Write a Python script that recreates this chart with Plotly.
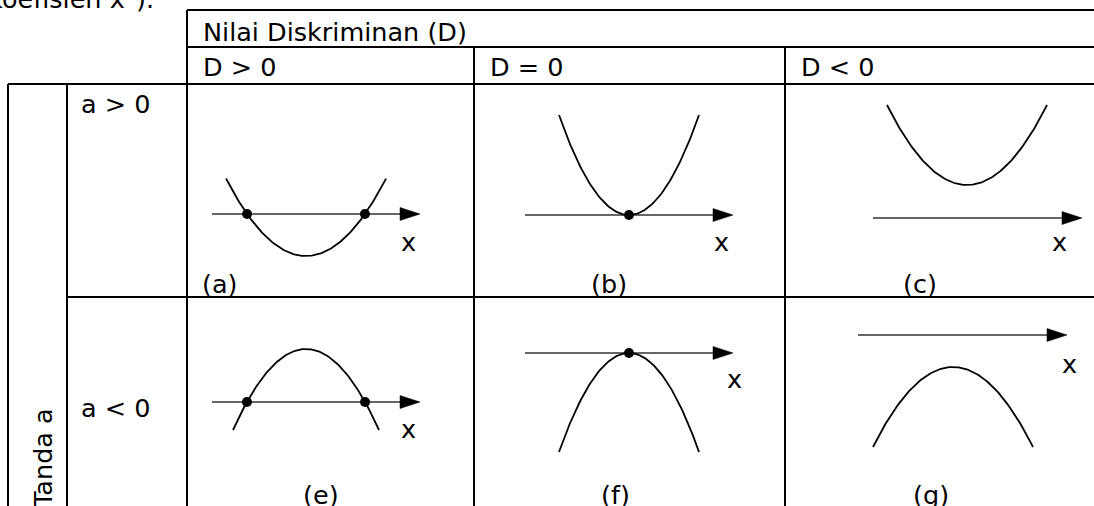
"""
Sketch table: shape of y = ax^2 + bx + c by sign of a and discriminant D.
"""

import numpy as np
import plotly.graph_objects as go

W, H = 1094, 506
FONT = "DejaVu Sans, Tahoma, Verdana, sans-serif"
FS = 25.5
S = 10  # px per sketch unit

# ── Panel data (local units, origin = vertex x on the x-axis line) ─────────────
labels     = ["(a)", "(b)", "(c)", "(e)", "(f)", "(g)"]
lead_coef  = [0.121, 0.204, 0.125, -0.152, -0.202, -0.125]
vertex_y   = [-4.2, 0.0, 3.3, 5.3, 0.0, -3.2]
half_span  = [8.0, 7.0, 8.0, 7.3, 7.0, 8.0]
axis_start = [-9.4, -10.4, -9.4, -9.4, -10.4, -9.5]
axis_tip   = [11.4, 10.4, 11.5, 11.4, 10.4, 11.4]
x_label_x  = [10.2, 9.2, 9.2, 10.2, 10.5, 11.6]
x_label_y  = [-2.8, -2.7, -2.4, -2.7, -2.6, -2.9]

# table text
header_top  = "Nilai Diskriminan (D)"
header_cols = ["D > 0", "D = 0", "D < 0"]
row_labels  = ["a > 0", "a < 0"]
side_label  = "Tanda a"

# ── Layout geometry (pixels) ───────────────────────────────────────────────────
col_x = [187, 474, 785, 1094]
row_y = [84, 297, 506]
origins = [(306, 214), (629, 215), (967, 218),
           (306, 402), (629, 353), (953, 335)]
label_pos = [(220, 284), (609, 284), (920, 284),
             (321, 495), (615, 495), (931, 495)]


def px(x):
    return x / W


def py(y):
    return 1 - y / H


fig = go.Figure()
layout_axes = {}

for i, lab in enumerate(labels):
    r, c = divmod(i, 3)
    x0, x1 = col_x[c], col_x[c + 1]
    y0, y1 = row_y[r], row_y[r + 1]
    ox, oy = origins[i]
    n = "" if i == 0 else str(i + 1)
    layout_axes[f"xaxis{n}"] = dict(
        domain=[px(x0), px(x1)], range=[(x0 - ox) / S, (x1 - ox) / S],
        visible=False, fixedrange=True, anchor=f"y{n}",
    )
    layout_axes[f"yaxis{n}"] = dict(
        domain=[py(y1), py(y0)], range=[(oy - y1) / S, (oy - y0) / S],
        visible=False, fixedrange=True, anchor=f"x{n}",
    )
    xa, ya = f"x{n}", f"y{n}"
    a, k = lead_coef[i], vertex_y[i]

    # x-axis line
    fig.add_trace(go.Scatter(
        x=[axis_start[i], axis_tip[i] - 1.0], y=[0, 0], mode="lines",
        line=dict(color="#333", width=1.5), xaxis=xa, yaxis=ya,
        hoverinfo="skip",
    ))
    # arrow head
    t = axis_tip[i]
    fig.add_trace(go.Scatter(
        x=[t - 2.0, t, t - 2.0, t - 2.0], y=[0.65, 0, -0.65, 0.65],
        mode="lines", fill="toself", fillcolor="black",
        line=dict(color="black", width=0.5), xaxis=xa, yaxis=ya,
        hoverinfo="skip",
    ))
    # parabola
    xs = np.linspace(-half_span[i], half_span[i], 121)
    fig.add_trace(go.Scatter(
        x=xs, y=a * xs ** 2 + k, mode="lines",
        line=dict(color="black", width=1.8), xaxis=xa, yaxis=ya,
        hoverinfo="skip",
    ))
    # intersections with the x-axis
    if k == 0:
        rx = [0.0]
    elif (k < 0) == (a > 0):
        root = np.sqrt(-k / a)
        rx = [-root, root]
    else:
        rx = []
    if rx:
        fig.add_trace(go.Scatter(
            x=rx, y=[0] * len(rx), mode="markers",
            marker=dict(color="black", size=10), xaxis=xa, yaxis=ya,
            hoverinfo="skip",
        ))
    # "x" label
    fig.add_annotation(
        x=x_label_x[i], y=x_label_y[i], xref=xa, yref=ya, text="x",
        showarrow=False, xanchor="center", yanchor="middle",
        font=dict(family=FONT, size=FS, color="black"),
    )
    # panel label
    lx, ly = label_pos[i]
    fig.add_annotation(
        x=px(lx), y=py(ly), xref="paper", yref="paper", text=lab,
        showarrow=False, xanchor="center", yanchor="middle",
        font=dict(family=FONT, size=FS, color="black"),
    )

# ── Table grid ─────────────────────────────────────────────────────────────────
hlines = [(187, 1094, 10), (187, 1094, 47), (8, 1094, 84), (67, 1094, 297)]
vlines = [(8, 84, 506), (67, 84, 506), (187, 10, 506),
          (474, 47, 506), (785, 47, 506)]
for xa0, xa1, yy in hlines:
    fig.add_shape(type="line", xref="paper", yref="paper",
                  x0=px(xa0), x1=px(xa1), y0=py(yy), y1=py(yy),
                  line=dict(color="black", width=2))
for xx, ya0, ya1 in vlines:
    fig.add_shape(type="line", xref="paper", yref="paper",
                  x0=px(xx), x1=px(xx), y0=py(ya0), y1=py(ya1),
                  line=dict(color="black", width=2))

# ── Table text ─────────────────────────────────────────────────────────────────
def text(x, y, s, anchor="left", angle=0):
    fig.add_annotation(
        x=px(x), y=py(y), xref="paper", yref="paper", text=s,
        showarrow=False, xanchor=anchor, yanchor="middle", textangle=angle,
        font=dict(family=FONT, size=FS, color="black"),
    )


text(156, -3, "(a adalah koefisien x<sup>2</sup>).", anchor="right")
text(201, 32, header_top)
for cx, lab in zip([201, 488, 799], header_cols):
    text(cx, 67, lab)
text(79, 104, row_labels[0])
text(79, 408, row_labels[1])
text(43, 458, side_label, anchor="center", angle=-90)

fig.update_layout(
    width=W, height=H,
    margin=dict(l=0, r=0, t=0, b=0),
    paper_bgcolor="white", plot_bgcolor="rgba(0,0,0,0)",
    showlegend=False,
    **layout_axes,
)

fig.write_html("out.html", config={"displayModeBar": False},
               post_script="document.body.style.margin = '0';")
